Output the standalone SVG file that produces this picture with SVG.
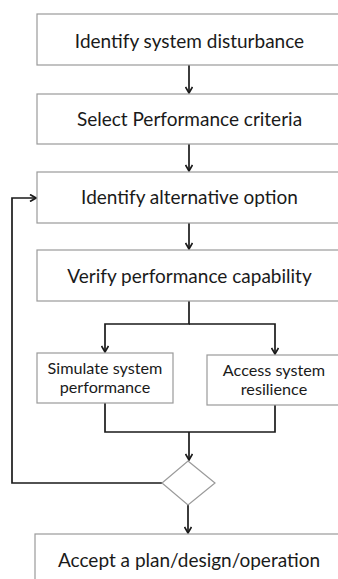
<svg xmlns="http://www.w3.org/2000/svg" width="338" height="579" viewBox="0 0 338 579">
<defs>
<marker id="ah" markerWidth="8" markerHeight="8" refX="7" refY="4" orient="auto" markerUnits="userSpaceOnUse">
<path d="M1,0.5 L7,4 L1,7.5" fill="none" stroke="#1a1a1a" stroke-width="1.7"/>
</marker>
<style>
.box{fill:#fff;stroke:#9a9a9a;stroke-width:1.2}
.t{font-family:Lato,"Open Sans",sans-serif;font-size:19px;fill:#1a1a1a;text-anchor:middle}
.s{font-family:Lato,"Open Sans",sans-serif;font-size:16.2px;fill:#1a1a1a;text-anchor:middle}
.c{fill:none;stroke:#1a1a1a;stroke-width:1.7}
</style>
</defs>
<rect width="338" height="579" fill="#fff"/>
<g id="connectors">
<path class="c" d="M189,65 V93" marker-end="url(#ah)"/>
<path class="c" d="M189,144 V171" marker-end="url(#ah)"/>
<path class="c" d="M189,223 V249" marker-end="url(#ah)"/>
<path class="c" d="M189,301 V324 H105 V352" marker-end="url(#ah)"/>
<path class="c" d="M189,324 H275 V354" marker-end="url(#ah)"/>
<path class="c" d="M105,403 V432 H275 V405"/>
<path class="c" d="M189,432 V460" marker-end="url(#ah)"/>
<path class="c" d="M162,483 H12 V198 H36" marker-end="url(#ah)"/>
<path class="c" d="M188,505 V533" marker-end="url(#ah)"/>
</g>
<g id="n1"><rect class="box" x="37" y="14" width="306" height="51"/><text class="t" x="189.5" y="48">Identify system disturbance</text></g>
<g id="n2"><rect class="box" x="37" y="94" width="306" height="50"/><text class="t" x="189.5" y="126">Select Performance criteria</text></g>
<g id="n3"><rect class="box" x="37" y="172" width="306" height="51"/><text class="t" x="189.5" y="204">Identify alternative option</text></g>
<g id="n4"><rect class="box" x="37" y="250" width="306" height="51"/><text class="t" x="189.5" y="283">Verify performance capability</text></g>
<g id="n5"><rect class="box" x="37" y="353" width="136" height="50"/><text class="s" x="105" y="374">Simulate system</text><text class="s" x="105" y="393">performance</text></g>
<g id="n6"><rect class="box" x="207" y="355" width="135" height="50"/><text class="s" x="274" y="376">Access system</text><text class="s" x="274" y="395">resilience</text></g>
<g id="n7"><path d="M188,461 L215,483 L188,505 L162,483 Z" fill="#fff" stroke="#9a9a9a" stroke-width="1.2"/></g>
<g id="n8"><rect class="box" x="35" y="534" width="308" height="60"/><text class="t" x="189" y="567">Accept a plan/design/operation</text></g>
</svg>
